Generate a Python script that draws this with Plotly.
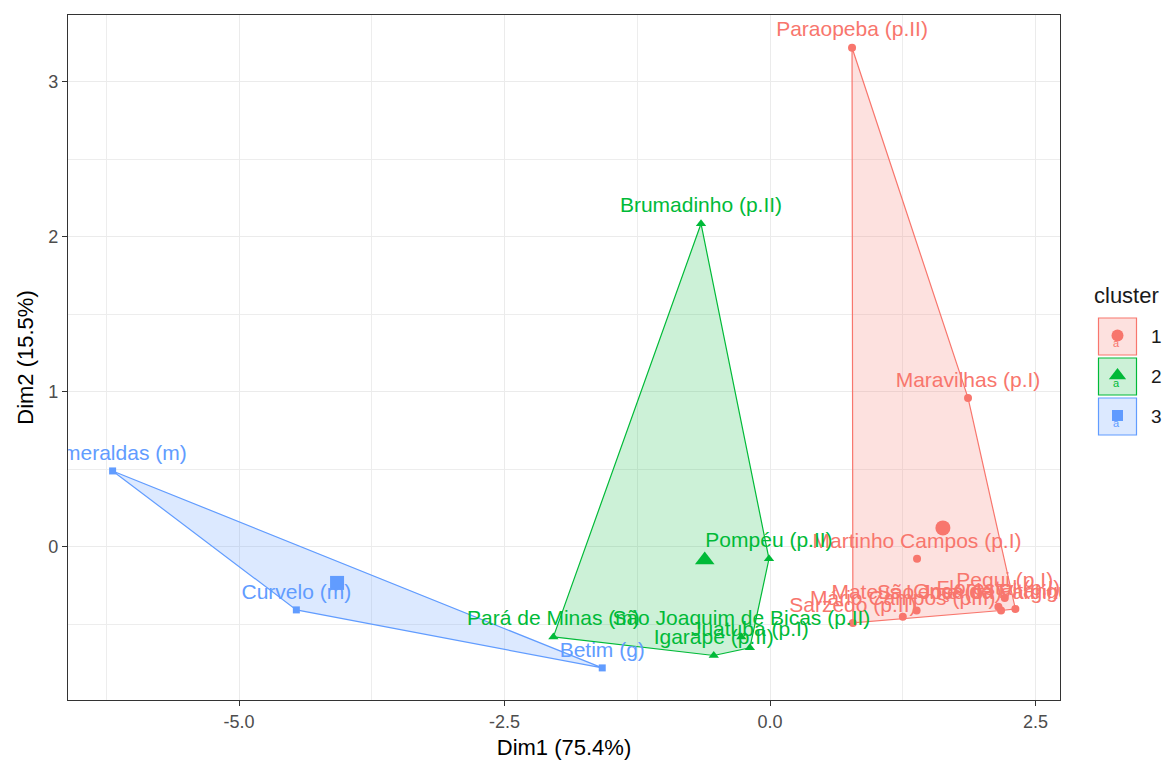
import plotly.graph_objects as go

# ---------------- data ----------------
c1_names = ["Paraopeba (p.II)", "Maravilhas (p.I)", "Martinho Campos (p.I)", "Sarzedo (p.II)",
            "Mário Campos (p.II)", "Mateus Leme (p.I)", "Pequi (p.I)", "São José da Varginha (p.I)",
            "Onça de Pitangui (p.I)", "Florestal (p.I)"]
c1_x = [0.772, 1.864, 1.384, 0.78, 1.25, 1.38, 2.21, 2.175, 2.31, 2.15]
c1_y = [3.219, 0.961, -0.077, -0.49, -0.45, -0.41, -0.33, -0.41, -0.40, -0.385]

c2_names = ["Brumadinho (p.II)", "Pompéu (p.II)", "Pará de Minas (m)", "São Joaquim de Bicas (p.II)",
            "Igarapé (p.II)", "Juatuba (p.I)"]
c2_x = [-0.65, -0.01, -2.04, -0.27, -0.53, -0.19]
c2_y = [2.084, -0.077, -0.58, -0.58, -0.70, -0.65]

c3_names = ["Esmeraldas (m)", "Curvelo (m)", "Betim (g)"]
c3_x = [-6.19, -4.46, -1.58]
c3_y = [0.49, -0.406, -0.78]

cluster_labels = ["1", "2", "3"]
x_ticks = [-5.0, -2.5, 0.0, 2.5]
y_ticks = [0, 1, 2, 3]

# ---------------- style ----------------
colors = ["#F8766D", "#00BA38", "#619CFF"]
fills = ["rgba(248,118,109,0.22)", "rgba(0,186,56,0.2)", "rgba(97,156,255,0.22)"]
symbols = ["circle", "triangle-up", "square"]
pt_size = [8, 9, 7]
ctr_size = [15, 17, 14]
leg_size = [12, 15, 11]
FONT = "Liberation Sans, Arial, sans-serif"


def hull(xs, ys):
    pts = sorted(set(zip(xs, ys)))
    if len(pts) <= 2:
        return pts

    def cross(o, a, b):
        return (a[0] - o[0]) * (b[1] - o[1]) - (a[1] - o[1]) * (b[0] - o[0])

    lower, upper = [], []
    for p in pts:
        while len(lower) >= 2 and cross(lower[-2], lower[-1], p) <= 0:
            lower.pop()
        lower.append(p)
    for p in reversed(pts):
        while len(upper) >= 2 and cross(upper[-2], upper[-1], p) <= 0:
            upper.pop()
        upper.append(p)
    return lower[:-1] + upper[:-1]


clusters = [(c1_names, c1_x, c1_y), (c2_names, c2_x, c2_y), (c3_names, c3_x, c3_y)]

fig = go.Figure()

# hulls
for i, (n, xs, ys) in enumerate(clusters):
    h = hull(xs, ys)
    hx = [p[0] for p in h] + [h[0][0]]
    hy = [p[1] for p in h] + [h[0][1]]
    fig.add_trace(go.Scatter(x=hx, y=hy, mode="lines", fill="toself", fillcolor=fills[i],
                             line=dict(color=colors[i], width=1.2), hoverinfo="skip",
                             showlegend=False))

# points with labels
for i, (n, xs, ys) in enumerate(clusters):
    fig.add_trace(go.Scatter(x=xs, y=ys, mode="markers+text", text=n, textposition="top center",
                             textfont=dict(family=FONT, size=21, color=colors[i]),
                             marker=dict(symbol=symbols[i], size=pt_size[i], color=colors[i]),
                             showlegend=False, cliponaxis=True))

# centroids
for i, (n, xs, ys) in enumerate(clusters):
    cx = sum(xs) / len(xs)
    cy = sum(ys) / len(ys)
    fig.add_trace(go.Scatter(x=[cx], y=[cy], mode="markers",
                             marker=dict(symbol=symbols[i], size=ctr_size[i], color=colors[i]),
                             showlegend=False))

# ---------------- manual legend (overlay axis in pixel units) ----------------
W, H = 1176, 765
L, R, T, B = 68, 1060, 15, 700
leg_y = [336.5, 376.5, 416.5]
for i in range(3):
    fig.add_shape(type="rect", xref="x2", yref="y2", x0=1098.5, x1=1136.5,
                  y0=leg_y[i] - 18.5, y1=leg_y[i] + 18.5,
                  line=dict(color=colors[i], width=1.2), fillcolor=fills[i])
    fig.add_annotation(x=1116, y=leg_y[i] + 6, xref="x2", yref="y2", text="a",
                       showarrow=False, xanchor="center", yanchor="middle",
                       font=dict(family=FONT, size=11, color=colors[i]))
    fig.add_trace(go.Scatter(x=[1117.5], y=[leg_y[i] - 1], xaxis="x2", yaxis="y2", mode="markers",
                             marker=dict(symbol=symbols[i], size=leg_size[i], color=colors[i]),
                             showlegend=False, cliponaxis=False, hoverinfo="skip"))
    fig.add_annotation(x=1149, y=leg_y[i], xref="x2", yref="y2", text=cluster_labels[i],
                       showarrow=False, xanchor="left", yanchor="middle",
                       font=dict(family=FONT, size=19, color="#1A1A1A"))
fig.add_annotation(x=1092, y=295, xref="x2", yref="y2", text="cluster", showarrow=False,
                   xanchor="left", yanchor="middle", font=dict(family=FONT, size=22, color="#1A1A1A"))

fig.update_layout(
    width=W, height=H,
    margin=dict(l=L, r=0, t=T, b=H - B),
    plot_bgcolor="white", paper_bgcolor="white",
    xaxis=dict(domain=[0, (R - L) / (W - L)], range=[-6.61, 2.73], tickvals=x_ticks,
               ticktext=[f"{v:.1f}" for v in x_ticks],
               showgrid=True, gridcolor="#EBEBEB", gridwidth=1.4, zeroline=False,
               minor=dict(dtick=1.25, tick0=0, showgrid=True, gridcolor="#EDEDED", gridwidth=0.8),
               showline=True, linecolor="#333333", linewidth=1.2, mirror=True,
               ticks="outside", ticklen=5, tickcolor="#333333", tickwidth=1.2,
               tickfont=dict(family=FONT, size=18, color="#4D4D4D"),
               title=dict(text="Dim1 (75.4%)", font=dict(family=FONT, size=22, color="#000000"),
                          standoff=8)),
    yaxis=dict(range=[-0.987, 3.43], tickvals=y_ticks, ticktext=[str(v) for v in y_ticks],
               showgrid=True, gridcolor="#EBEBEB", gridwidth=1.4, zeroline=False,
               minor=dict(dtick=0.5, tick0=0, showgrid=True, gridcolor="#EDEDED", gridwidth=0.8),
               showline=True, linecolor="#333333", linewidth=1.2, mirror=True,
               ticks="outside", ticklen=5, tickcolor="#333333", tickwidth=1.2,
               tickfont=dict(family=FONT, size=18, color="#4D4D4D"),
               title=dict(text="Dim2 (15.5%)", font=dict(family=FONT, size=22, color="#000000"),
                          standoff=8)),
    xaxis2=dict(domain=[(R - L) / (W - L), 1], range=[R, W], visible=False, anchor="y2"),
    yaxis2=dict(domain=[0, 1], range=[B, T], visible=False, anchor="x2"),
    showlegend=False,
)

fig.write_html("out.html")
